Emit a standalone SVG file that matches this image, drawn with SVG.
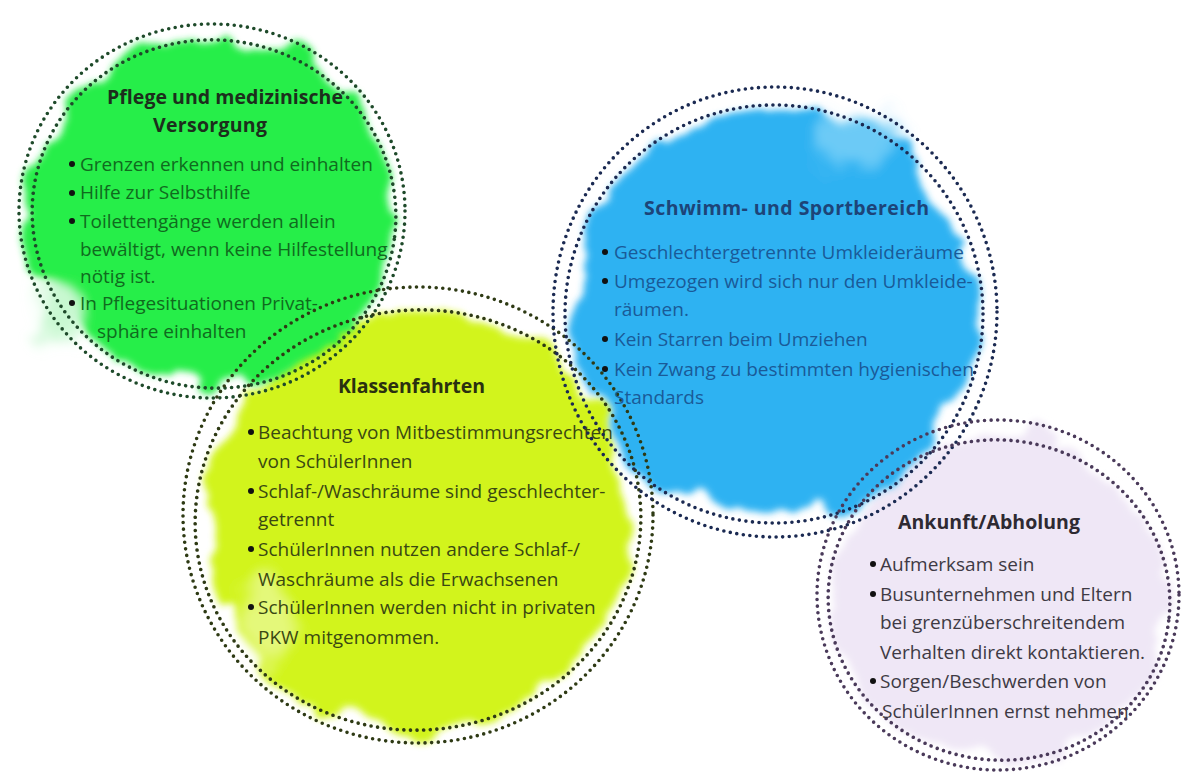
<svg xmlns="http://www.w3.org/2000/svg" width="1185" height="778" viewBox="0 0 1185 778">
<defs>
<filter id="wc" x="-25%" y="-25%" width="150%" height="150%">
<feTurbulence type="fractalNoise" baseFrequency="0.018" numOctaves="3" seed="7" result="n"/>
<feDisplacementMap in="SourceGraphic" in2="n" scale="46" xChannelSelector="R" yChannelSelector="G" result="d"/>
<feGaussianBlur in="d" stdDeviation="3.5"/>
</filter>
<filter id="wc2" x="-25%" y="-25%" width="150%" height="150%">
<feTurbulence type="fractalNoise" baseFrequency="0.03" numOctaves="2" seed="11" result="n"/>
<feDisplacementMap in="SourceGraphic" in2="n" scale="30" xChannelSelector="R" yChannelSelector="G" result="d"/>
<feGaussianBlur in="d" stdDeviation="6"/>
</filter>
<style>
.ring{fill:none;stroke-width:3.6;stroke-linecap:round;stroke-dasharray:0 6.6}
.t{font-family:"Open Sans","Liberation Sans",sans-serif;font-size:19px}
.h{font-family:"Open Sans","Liberation Sans",sans-serif;font-size:19.5px;font-weight:bold}
</style>
</defs>
<rect width="1185" height="778" fill="#ffffff"/>
<g id="washes">
<g id="wash-ankunft" filter="url(#wc)"><ellipse cx="1000" cy="598" rx="168" ry="164" fill="#efe7f6"/></g>
<g id="wash-klassen" filter="url(#wc)"><ellipse cx="418" cy="522" rx="212" ry="210" fill="#d2f41e"/>
<ellipse cx="270" cy="620" rx="30" ry="40" fill="#e4f87a" filter="url(#wc2)"/></g>
<g id="wash-schwimm" filter="url(#wc)"><ellipse cx="773" cy="312" rx="198" ry="202" fill="#2fb2f2"/>
<ellipse cx="850" cy="140" rx="40" ry="25" fill="#6ccaf6" filter="url(#wc2)"/></g>
<g id="wash-pflege" filter="url(#wc)"><ellipse cx="212" cy="212" rx="182" ry="174" fill="#28ee48"/>
<ellipse cx="55" cy="310" rx="22" ry="30" fill="#c8f8d0" filter="url(#wc2)"/></g>
</g>
<g id="connectors"></g>
<g id="node-pflege">
<ellipse class="ring" cx="212" cy="211" rx="193" ry="187" stroke="#1e4a2a"/>
<ellipse class="ring" cx="214" cy="214" rx="182" ry="174" stroke="#1e4a2a" transform="rotate(8 214 214)"/>
<text class="h" x="107" y="104" fill="#1c2e1c" textLength="236" lengthAdjust="spacing">Pflege und medizinische</text>
<text class="h" x="153" y="132" fill="#1c2e1c" textLength="114" lengthAdjust="spacing">Versorgung</text>
<g class="t" fill="#106a1e">
<circle cx="72" cy="164" r="3" fill="#111"/><text x="80" y="171">Grenzen erkennen und einhalten</text>
<circle cx="72" cy="193" r="3" fill="#111"/><text x="80" y="199">Hilfe zur Selbsthilfe</text>
<circle cx="72" cy="221" r="3" fill="#111"/><text x="80" y="228">Toilettengänge werden allein</text>
<text x="80" y="256">bewältigt, wenn keine Hilfestellung</text>
<text x="80" y="283">nötig ist.</text>
<circle cx="72" cy="303" r="3" fill="#111"/><text x="80" y="310">In Pflegesituationen Privat-</text>
<text x="97" y="338">sphäre einhalten</text>
</g>
</g>
<g id="node-klassen">
<ellipse class="ring" cx="418" cy="515" rx="235" ry="228" stroke="#2e3a14"/>
<ellipse class="ring" cx="418" cy="520" rx="223" ry="210" stroke="#2e3a14" transform="rotate(-6 418 520)"/>
<text class="h" x="338" y="393" fill="#2a3010" textLength="147" lengthAdjust="spacing">Klassenfahrten</text>
<g class="t" fill="#3a4812">
<circle cx="251" cy="432" r="3" fill="#111"/><text x="258" y="439">Beachtung von Mitbestimmungsrechten</text>
<text x="258" y="468">von SchülerInnen</text>
<circle cx="251" cy="491" r="3" fill="#111"/><text x="258" y="498">Schlaf-/Waschräume sind geschlechter-</text>
<text x="258" y="526">getrennt</text>
<circle cx="251" cy="549" r="3" fill="#111"/><text x="258" y="556">SchülerInnen nutzen andere Schlaf-/</text>
<text x="258" y="586">Waschräume als die Erwachsenen</text>
<circle cx="251" cy="607" r="3" fill="#111"/><text x="258" y="614">SchülerInnen werden nicht in privaten</text>
<text x="258" y="644">PKW mitgenommen.</text>
</g>
</g>
<g id="node-schwimm">
<ellipse class="ring" cx="775" cy="312" rx="222" ry="225" stroke="#1b2a52"/>
<ellipse class="ring" cx="774" cy="314" rx="209" ry="209" stroke="#1b2a52"/>
<text class="h" x="644" y="215" fill="#1d4478" textLength="285" lengthAdjust="spacing">Schwimm- und Sportbereich</text>
<g class="t" fill="#1a5a98">
<circle cx="605" cy="252" r="3" fill="#111"/><text x="614" y="259">Geschlechtergetrennte Umkleideräume</text>
<circle cx="605" cy="281" r="3" fill="#111"/><text x="614" y="288">Umgezogen wird sich nur den Umkleide-</text>
<text x="614" y="316">räumen.</text>
<circle cx="605" cy="339" r="3" fill="#111"/><text x="614" y="346">Kein Starren beim Umziehen</text>
<circle cx="605" cy="369" r="3" fill="#111"/><text x="614" y="376">Kein Zwang zu bestimmten hygienischen</text>
<text x="614" y="404">Standards</text>
</g>
</g>
<g id="node-ankunft">
<ellipse class="ring" cx="998" cy="595" rx="181" ry="175" stroke="#4a3a5a"/>
<ellipse class="ring" cx="999" cy="600" rx="171" ry="160" stroke="#4a3a5a" transform="rotate(7 999 600)"/>
<text class="h" x="898" y="529" fill="#2e2a32" textLength="182" lengthAdjust="spacing">Ankunft/Abholung</text>
<g class="t" fill="#3e3a44">
<circle cx="873" cy="564" r="3" fill="#111"/><text x="880" y="571">Aufmerksam sein</text>
<circle cx="873" cy="594" r="3" fill="#111"/><text x="880" y="601">Busunternehmen und Eltern</text>
<text x="880" y="629">bei grenzüberschreitendem</text>
<text x="880" y="659">Verhalten direkt kontaktieren.</text>
<circle cx="873" cy="681" r="3" fill="#111"/><text x="880" y="688">Sorgen/Beschwerden von</text>
<text x="882" y="718">SchülerInnen ernst nehmen</text>
</g>
</g>
</svg>
